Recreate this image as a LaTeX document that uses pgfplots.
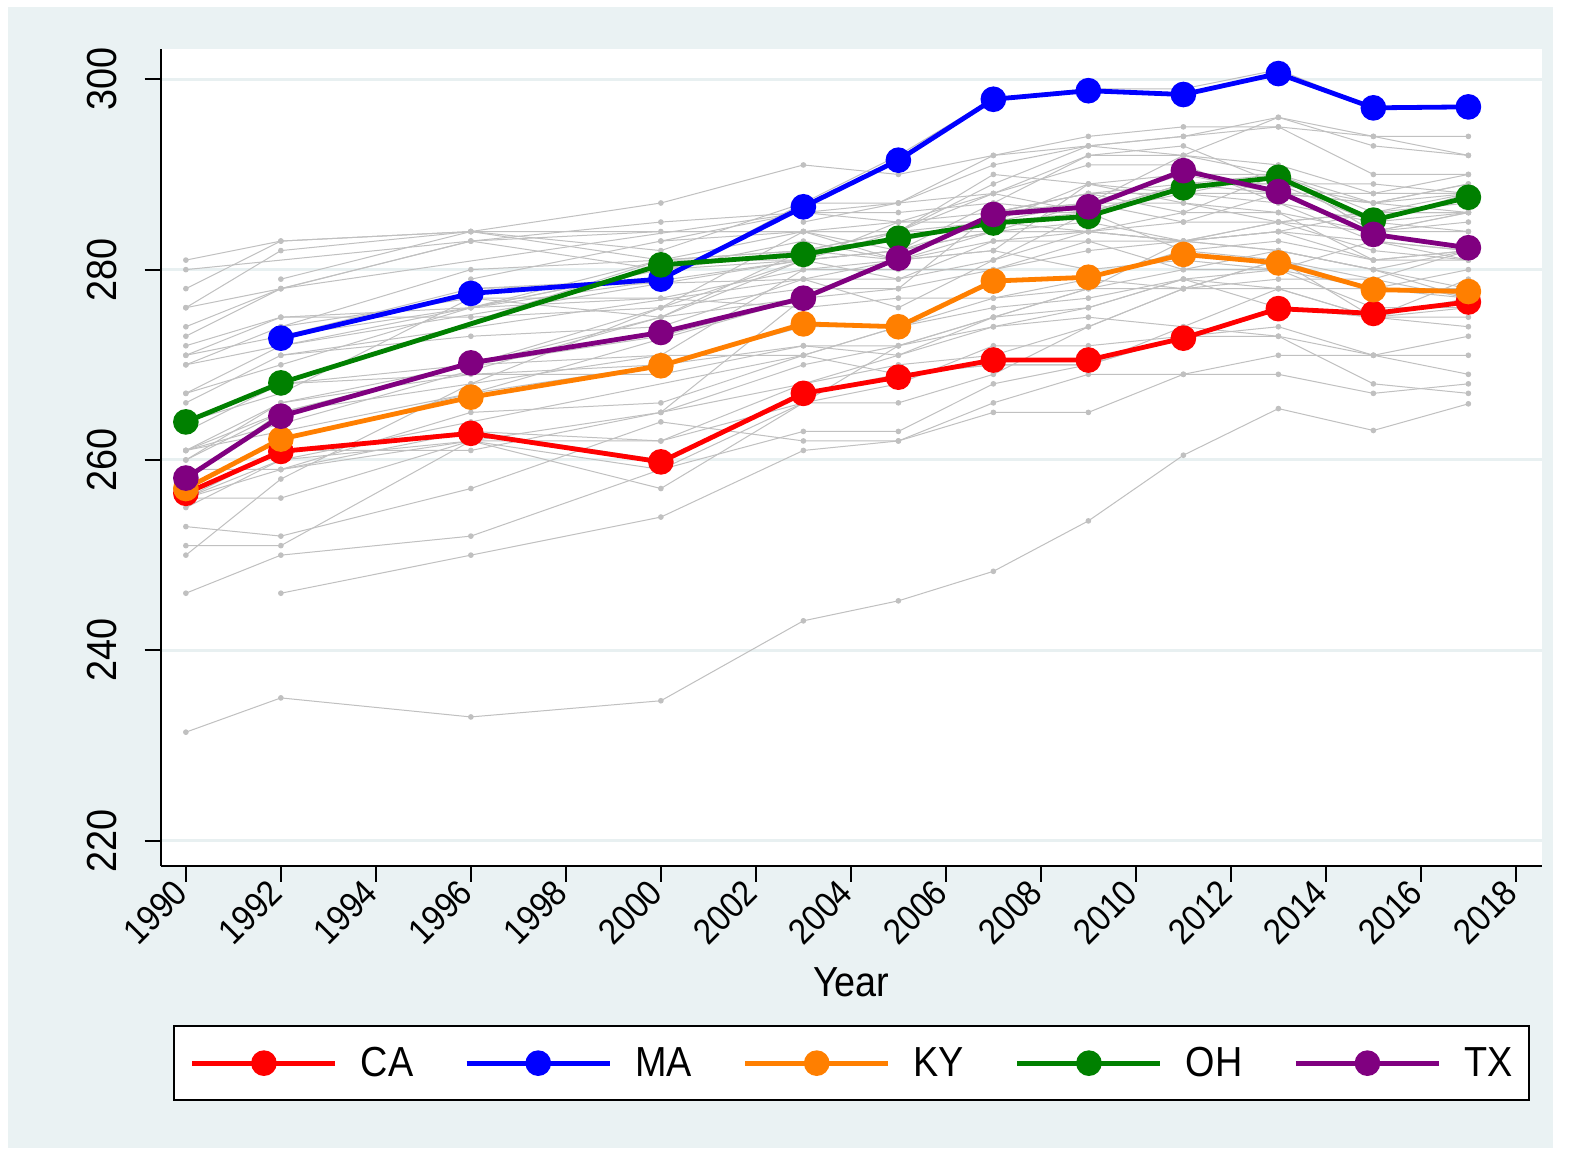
\documentclass[border=0pt]{standalone}
\usepackage{fontspec}
\setmainfont{Liberation Sans}[FakeStretch=0.9]
\usepackage{pgfplots}
\pgfplotsset{compat=1.18}
\definecolor{bgc}{RGB}{234,242,243}
\definecolor{gridc}{RGB}{232,240,241}
\definecolor{grc}{RGB}{192,192,192}
\definecolor{cred}{RGB}{255,0,0}
\definecolor{cblue}{RGB}{0,0,255}
\definecolor{corange}{RGB}{255,127,0}
\definecolor{cgreen}{RGB}{0,128,0}
\definecolor{cpurple}{RGB}{128,0,128}
\newcommand\fz{\fontsize{21pt}{25pt}\selectfont}
\newcommand\fx{\fontsize{18pt}{22pt}\selectfont}
\pgfplotsset{
  gr/.style={color=grc, line width=0.5pt, mark=*, mark size=1.15pt,
    mark options={draw=none, fill=grc}, forget plot},
  hl/.style={color=#1, line width=2.4pt, mark=*, mark size=5.2pt,
    mark options={draw=none, fill=#1}},
}
\begin{document}
\begin{tikzpicture}
\fill[white] (-80.35pt,-142.15pt) rectangle (704.15pt,432.85pt);
\fill[bgc] (-76.35pt,-141.15pt) rectangle (696.15pt,429.35pt);
\begin{axis}[
  at={(0,0)}, anchor=south west,
  scale only axis, width=690.65pt, height=408.2pt,
  xmin=1989.47, xmax=2018.55, ymin=217.37, ymax=303.15,
  axis background/.style={fill=white},
  axis x line*=bottom, axis y line*=left,
  axis line style={black, line width=1pt},
  tick align=outside, major tick length=8pt,
  tick style={black, line width=1pt},
  xtick={1990,1992,...,2018}, ytick={220,240,...,300},
  minor tick num=0,
  ymajorgrids, major grid style={gridc, line width=1.5pt},
  /pgf/number format/.cd, 1000 sep={}, assume math mode=true, /pgfplots/.cd,
  tick label style={black},
  xticklabel style={font=\fx, rotate=45, anchor=east},
  yticklabel style={font=\fz, rotate=90, anchor=south, inner ysep=13.5pt},
  xlabel={Year},
  xlabel style={font=\fz, at={(axis description cs:0.5,-0.1596)}, anchor=base},
  legend columns=5,
  legend style={font=\fz, at={(0.5,-0.19512)}, anchor=north, draw=black, line width=1pt,
    fill=white, inner xsep=8pt, inner ysep=10.5pt,
    nodes={inner sep=0pt},
    /tikz/every odd column/.append style={column sep=11.5pt},
    /tikz/every even column/.append style={column sep=25.5pt}},
  legend image code/.code={\draw[mark repeat=2, mark phase=2, #1] plot coordinates {(0pt,0pt) (35.75pt,0pt) (71.5pt,0pt)};},
]
% gray lines: all states
\addplot[gr] coordinates {(1990,253)(1992,252)(1996,257)(2000,264)(2003,262)(2005,262)(2007,266)(2009,269)(2011,269)(2013,269)(2015,267)(2017,268)}; % AL
\addplot[gr] coordinates {(1996,278)(2003,279)(2005,279)(2007,283)(2009,283)(2011,283)(2013,282)(2015,280)(2017,277)}; % AK
\addplot[gr] coordinates {(1990,260)(1992,265)(1996,268)(2000,271)(2003,271)(2005,274)(2007,276)(2009,277)(2011,279)(2013,280)(2015,283)(2017,282)}; % AZ
\addplot[gr] coordinates {(1990,256)(1992,256)(1996,262)(2000,257)(2003,266)(2005,272)(2007,274)(2009,276)(2011,279)(2013,278)(2015,275)(2017,274)}; % AR
\addplot[gr] coordinates {(1990,256)(1992,261)(1996,263)(2000,260)(2003,267)(2005,269)(2007,270)(2009,270)(2011,273)(2013,276)(2015,275)(2017,277)}; % CA
\addplot[gr] coordinates {(1990,267)(1992,272)(1996,276)(2003,283)(2005,281)(2007,286)(2009,287)(2011,292)(2013,290)(2015,286)(2017,286)}; % CO
\addplot[gr] coordinates {(1990,270)(1992,274)(1996,280)(2000,281)(2003,284)(2005,281)(2007,282)(2009,289)(2011,287)(2013,285)(2015,284)(2017,284)}; % CT
\addplot[gr] coordinates {(1990,261)(1992,263)(1996,267)(2003,277)(2005,281)(2007,283)(2009,284)(2011,283)(2013,282)(2015,280)(2017,278)}; % DE
\addplot[gr] coordinates {(1990,231.4)(1992,235)(1996,233)(2000,234.7)(2003,243.1)(2005,245.2)(2007,248.3)(2009,253.6)(2011,260.5)(2013,265.4)(2015,263.1)(2017,265.9)}; % DC
\addplot[gr] coordinates {(1990,255)(1992,260)(1996,264)(2003,271)(2005,274)(2007,277)(2009,279)(2011,278)(2013,281)(2015,275)(2017,279)}; % FL
\addplot[gr] coordinates {(1990,259)(1992,259)(1996,262)(2000,265)(2003,270)(2005,272)(2007,275)(2009,278)(2011,278)(2013,279)(2015,279)(2017,282)}; % GA
\addplot[gr] coordinates {(1990,251)(1992,251)(1996,262)(2000,262)(2003,266)(2005,266)(2007,269)(2009,274)(2011,278)(2013,281)(2015,279)(2017,277)}; % HI
\addplot[gr] coordinates {(1990,271)(1992,275)(2000,277)(2003,280)(2005,281)(2007,284)(2009,287)(2011,287)(2013,286)(2015,284)(2017,286)}; % ID
\addplot[gr] coordinates {(1990,261)(2000,275)(2003,277)(2005,278)(2007,280)(2009,282)(2011,283)(2013,285)(2015,282)(2017,281)}; % IL
\addplot[gr] coordinates {(1990,267)(1992,270)(1996,276)(2000,281)(2003,281)(2005,282)(2007,285)(2009,287)(2011,285)(2013,288)(2015,287)(2017,288)}; % IN
\addplot[gr] coordinates {(1990,278)(1992,283)(1996,284)(2003,284)(2005,284)(2007,285)(2009,284)(2011,285)(2013,285)(2015,286)(2017,286)}; % IA
\addplot[gr] coordinates {(2000,283)(2003,284)(2005,284)(2007,290)(2009,289)(2011,290)(2013,290)(2015,284)(2017,285)}; % KS
\addplot[gr] coordinates {(1990,257)(1992,262)(1996,267)(2000,270)(2003,274)(2005,274)(2007,279)(2009,279)(2011,282)(2013,281)(2015,278)(2017,278)}; % KY
\addplot[gr] coordinates {(1990,246)(1992,250)(1996,252)(2000,259)(2003,266)(2005,268)(2007,272)(2009,272)(2011,273)(2013,273)(2015,268)(2017,267)}; % LA
\addplot[gr] coordinates {(1992,279)(1996,284)(2000,281)(2003,282)(2005,281)(2007,286)(2009,286)(2011,289)(2013,289)(2015,285)(2017,284)}; % ME
\addplot[gr] coordinates {(1990,261)(1992,265)(1996,270)(2000,276)(2003,278)(2005,278)(2007,286)(2009,288)(2011,288)(2013,287)(2015,283)(2017,281)}; % MD
\addplot[gr] coordinates {(1992,273)(1996,278)(2000,279)(2003,287)(2005,292)(2007,298)(2009,299)(2011,299)(2013,301)(2015,297)(2017,297)}; % MA
\addplot[gr] coordinates {(1990,264)(1992,267)(1996,277)(2000,277)(2003,276)(2005,277)(2007,277)(2009,278)(2011,280)(2013,280)(2015,278)(2017,280)}; % MI
\addplot[gr] coordinates {(1990,276)(1992,282)(1996,284)(2000,287)(2003,291)(2005,290)(2007,292)(2009,294)(2011,295)(2013,295)(2015,294)(2017,294)}; % MN
\addplot[gr] coordinates {(1992,246)(1996,250)(2000,254)(2003,261)(2005,262)(2007,265)(2009,265)(2011,269)(2013,271)(2015,271)(2017,271)}; % MS
\addplot[gr] coordinates {(1992,271)(1996,273)(2000,274)(2003,279)(2005,276)(2007,281)(2009,286)(2011,282)(2013,283)(2015,281)(2017,281)}; % MO
\addplot[gr] coordinates {(1990,280)(1996,283)(2000,285)(2003,286)(2005,286)(2007,287)(2009,292)(2011,293)(2013,289)(2015,287)(2017,286)}; % MT
\addplot[gr] coordinates {(1990,276)(1992,278)(1996,283)(2000,280)(2003,282)(2005,284)(2007,284)(2009,284)(2011,283)(2013,285)(2015,286)(2017,288)}; % NE
\addplot[gr] coordinates {(2000,265)(2003,268)(2005,270)(2007,271)(2009,274)(2011,278)(2013,278)(2015,275)(2017,275)}; % NV
\addplot[gr] coordinates {(1990,273)(1992,278)(2003,286)(2005,285)(2007,288)(2009,292)(2011,292)(2013,296)(2015,294)(2017,292)}; % NH
\addplot[gr] coordinates {(1990,270)(1992,272)(2003,281)(2005,284)(2007,289)(2009,293)(2011,294)(2013,296)(2015,293)(2017,292)}; % NJ
\addplot[gr] coordinates {(1990,256)(1992,260)(1996,262)(2000,259)(2003,263)(2005,263)(2007,268)(2009,270)(2011,274)(2013,273)(2015,271)(2017,269)}; % NM
\addplot[gr] coordinates {(1990,261)(1992,266)(1996,270)(2000,271)(2003,280)(2005,280)(2007,280)(2009,283)(2011,280)(2013,282)(2015,280)(2017,282)}; % NY
\addplot[gr] coordinates {(1990,250)(1992,258)(1996,268)(2000,276)(2003,281)(2005,282)(2007,284)(2009,284)(2011,286)(2013,286)(2015,281)(2017,282)}; % NC
\addplot[gr] coordinates {(1990,281)(1992,283)(1996,284)(2000,282)(2003,287)(2005,287)(2007,292)(2009,293)(2011,292)(2013,291)(2015,288)(2017,288)}; % ND
\addplot[gr] coordinates {(1990,264)(1992,268)(2000,281)(2003,282)(2005,283)(2007,285)(2009,286)(2011,289)(2013,290)(2015,285)(2017,288)}; % OH
\addplot[gr] coordinates {(1990,263)(1992,268)(2000,270)(2003,272)(2005,271)(2007,275)(2009,276)(2011,279)(2013,276)(2015,275)(2017,276)}; % OK
\addplot[gr] coordinates {(1990,271)(1992,273)(1996,276)(2000,280)(2003,281)(2005,282)(2007,284)(2009,285)(2011,283)(2013,284)(2015,283)(2017,282)}; % OR
\addplot[gr] coordinates {(1990,266)(1992,271)(2003,279)(2005,281)(2007,286)(2009,288)(2011,286)(2013,290)(2015,284)(2017,286)}; % PA
\addplot[gr] coordinates {(1990,260)(1992,266)(1996,269)(2000,269)(2003,272)(2005,272)(2007,275)(2009,278)(2011,283)(2013,284)(2015,281)(2017,282)}; % RI
\addplot[gr] coordinates {(1992,261)(1996,261)(2000,265)(2003,277)(2005,281)(2007,282)(2009,280)(2011,281)(2013,280)(2015,276)(2017,276)}; % SC
\addplot[gr] coordinates {(2003,285)(2005,287)(2007,288)(2009,291)(2011,291)(2013,287)(2015,285)(2017,286)}; % SD
\addplot[gr] coordinates {(1992,259)(1996,263)(2000,262)(2003,268)(2005,271)(2007,274)(2009,275)(2011,274)(2013,278)(2015,278)(2017,277)}; % TN
\addplot[gr] coordinates {(1990,258)(1992,265)(1996,270)(2000,273)(2003,277)(2005,281)(2007,286)(2009,287)(2011,290)(2013,288)(2015,284)(2017,282)}; % TX
\addplot[gr] coordinates {(1992,274)(1996,277)(2000,275)(2003,281)(2005,279)(2007,281)(2009,284)(2011,283)(2013,284)(2015,286)(2017,287)}; % UT
\addplot[gr] coordinates {(1996,279)(2000,283)(2003,286)(2005,287)(2007,291)(2009,293)(2011,294)(2013,295)(2015,290)(2017,290)}; % VT
\addplot[gr] coordinates {(1990,264)(1992,268)(1996,270)(2000,275)(2003,282)(2005,284)(2007,288)(2009,286)(2011,289)(2013,288)(2015,288)(2017,290)}; % VA
\addplot[gr] coordinates {(1996,276)(2003,281)(2005,285)(2007,285)(2009,289)(2011,288)(2013,290)(2015,287)(2017,289)}; % WA
\addplot[gr] coordinates {(1990,256)(1992,259)(1996,265)(2000,266)(2003,271)(2005,269)(2007,270)(2009,270)(2011,273)(2013,274)(2015,271)(2017,273)}; % WV
\addplot[gr] coordinates {(1990,274)(1992,278)(1996,283)(2000,284)(2003,284)(2005,285)(2007,286)(2009,288)(2011,289)(2013,289)(2015,289)(2017,288)}; % WI
\addplot[gr] coordinates {(1990,272)(1992,275)(1996,275)(2000,276)(2003,284)(2005,282)(2007,287)(2009,286)(2011,288)(2013,288)(2015,287)(2017,289)}; % WY
% highlighted states
\addplot[hl=cred] coordinates {(1990,256.5)(1992,260.9)(1996,262.8)(2000,259.8)(2003,267.0)(2005,268.7)(2007,270.5)(2009,270.5)(2011,272.8)(2013,275.9)(2015,275.4)(2017,276.6)};
\addlegendentry{CA}
\addplot[hl=cblue] coordinates {(1992,272.8)(1996,277.5)(2000,279.0)(2003,286.6)(2005,291.5)(2007,297.9)(2009,298.8)(2011,298.4)(2013,300.6)(2015,297.0)(2017,297.1)};
\addlegendentry{MA}
\addplot[hl=corange] coordinates {(1990,257.0)(1992,262.2)(1996,266.6)(2000,269.9)(2003,274.3)(2005,274.0)(2007,278.8)(2009,279.2)(2011,281.6)(2013,280.7)(2015,277.9)(2017,277.7)};
\addlegendentry{KY}
\addplot[hl=cgreen] coordinates {(1990,264.0)(1992,268.1)(2000,280.5)(2003,281.6)(2005,283.3)(2007,284.9)(2009,285.6)(2011,288.6)(2013,289.7)(2015,285.2)(2017,287.6)};
\addlegendentry{OH}
\addplot[hl=cpurple] coordinates {(1990,258.1)(1992,264.6)(1996,270.2)(2000,273.4)(2003,277.0)(2005,281.2)(2007,285.8)(2009,286.6)(2011,290.4)(2013,288.2)(2015,283.7)(2017,282.3)};
\addlegendentry{TX}
\end{axis}
\end{tikzpicture}
\end{document}
